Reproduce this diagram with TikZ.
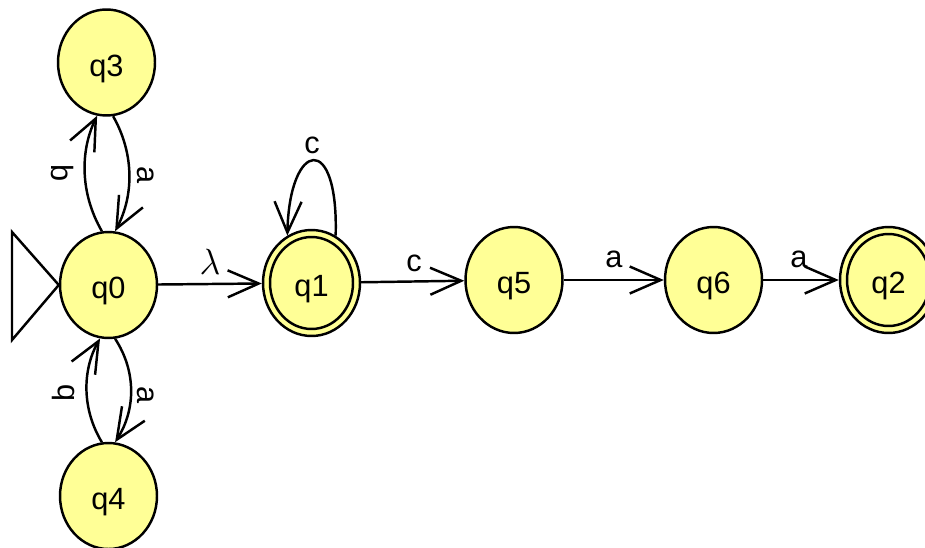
\documentclass[tikz,border=0pt]{standalone}
\usepackage{fontspec}
\setmainfont{Liberation Sans}
\usetikzlibrary{arrows.meta,shapes.geometric}
\definecolor{stfill}{RGB}{255,255,150}
\begin{document}
\begin{tikzpicture}[x=0.02cm,y=-0.02cm,
  every node/.style={font=\fontsize{17.5}{20}\selectfont, inner sep=1pt},
  state/.style={ellipse, draw, line width=1.4pt, fill=stfill, inner sep=0pt,
    minimum width=1.94cm, minimum height=2.12cm,
    label={[yshift=-3.6pt]center:#1}},
  trans/.style={line width=1.4pt, -{Straight Barb[length=0.62cm,width=0.54cm]}},
  inner ring/.style={line width=1.4pt}]
\useasboundingbox (0,0) rectangle (925,547);
% states
\node[state=q3] (q3) at (106.5,62.5) {};
\node[state=q0] (q0) at (108.5,285) {};
\node[state=q4] (q4) at (108.5,496) {};
\node[state=q1] (q1) at (311.5,283) {};
\node[state=q5] (q5) at (514,280) {};
\node[state=q6] (q6) at (713.5,280) {};
\node[state=q2] (q2) at (888.5,280) {};
% accepting rings
\draw[inner ring] (q1.center) ellipse [x radius=0.83cm, y radius=0.92cm];
\draw[inner ring] (q2.center) ellipse [x radius=0.83cm, y radius=0.92cm];
% initial triangle
\coordinate (t1) at (12,232);
\coordinate (t2) at (12,340);
\draw[line width=1.4pt, line join=miter] (t1) -- (t2) -- (q0.west) -- cycle;
% transitions
\draw[trans] (q0.97) .. controls +(-22,-38) and +(-17,35) .. (q3.260);
\draw[trans] (q3.277) .. controls +(20,35) and +(20,-38) .. (q0.83);
\draw[trans] (q4.97) .. controls +(-20,-33) and +(-18,32) .. (q0.261);
\draw[trans] (q0.277) .. controls +(21,32) and +(21,-33) .. (q4.83);
\draw[trans] (q0) -- (q1);
\draw[trans] (q1.63) .. controls +(3,-105) and +(2,-95) .. (q1.117);
\draw[trans] (q1) -- (q5);
\draw[trans] (q5) -- (q6);
\draw[trans] (q6) -- (q2);
% labels
\node[rotate=-90] (lb1) at (62,173) {b};
\node[rotate=-90] (la1) at (146,175) {a};
\node[rotate=90] (lb2) at (64,393) {b};
\node[rotate=-90] (la2) at (146,395) {a};
\node[font=\fontsize{21}{24}\selectfont] (ll) at (210,262) {$\lambda$};
\node (lc1) at (312,145) {c};
\node (lc2) at (414,263) {c};
\node (la3) at (614,259) {a};
\node (la4) at (799,259) {a};
\end{tikzpicture}
\end{document}
